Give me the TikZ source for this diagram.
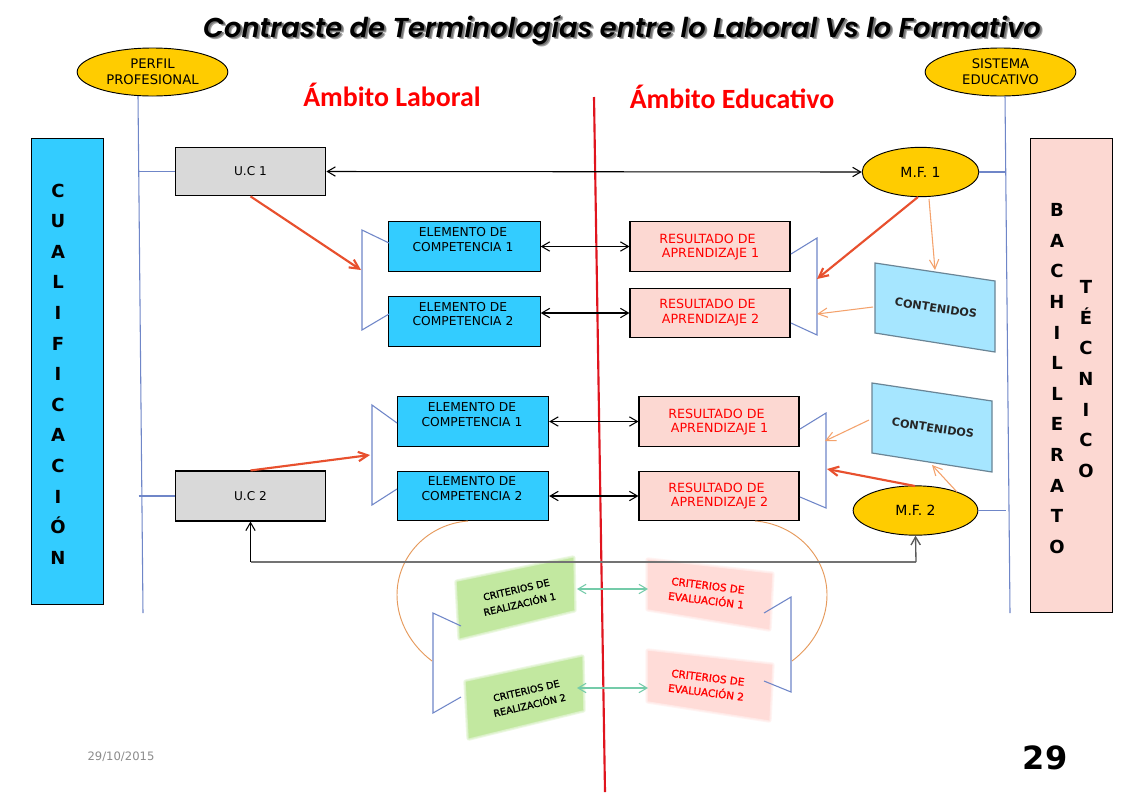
\documentclass[tikz,border=0pt]{standalone}
\usepackage{fontspec}
\setmainfont{DejaVu Sans}
\newfontfamily\carlfont{Carlito}
\newfontfamily\titlefont{Poppins SemiBold}
\newfontfamily\critfont[FakeBold=1.4]{DejaVu Sans}
\usetikzlibrary{arrows.meta,shapes.geometric}
\definecolor{cyanbox}{HTML}{33CCFF}
\definecolor{pinkbox}{HTML}{FCD8D2}
\definecolor{greybox}{HTML}{D9D9D9}
\definecolor{goldell}{HTML}{FFCC00}
\definecolor{bluel}{HTML}{6F86C8}
\definecolor{redarr}{HTML}{E8502E}
\definecolor{orarr}{HTML}{F4A26C}
\definecolor{arccol}{HTML}{E69A5C}
\definecolor{contf}{HTML}{A6E6FF}
\definecolor{contd}{HTML}{6A8596}
\definecolor{grn}{HTML}{C2E8A0}
\definecolor{pnk}{HTML}{FFDCD8}
\definecolor{tealc}{HTML}{74CBA9}
\definecolor{centre}{HTML}{E0141E}
\newcommand{\softquad}[5]{%
  \foreach \w in {4,2.5,1}{\filldraw[#1,opacity=.3,line width=\w pt,line join=round] #2 -- #3 -- #4 -- #5 -- cycle;}%
  \fill[#1] #2 -- #3 -- #4 -- #5 -- cycle;}
\newcommand{\shadowed}[1]{%
  \rlap{\kern2pt\raisebox{-2pt}{\textcolor{black!35}{#1}}}%
  \rlap{\kern1.3pt\raisebox{-1.3pt}{\textcolor{black!55}{#1}}}#1}
\tikzset{
  x=.75pt,y=-.75pt,
  lab/.style={font=\fontsize{9.2}{11.2}\selectfont,align=center,inner sep=0pt},
  labred/.style={lab,font=\fontsize{9.5}{10.8}\selectfont,text=red,align=left},
  rowtext/.style={font=\fontsize{13.5}{22.95}\selectfont\bfseries,align=center,inner sep=0pt},
  boxc/.style={draw=black,line width=.8pt,fill=cyanbox,rectangle,inner sep=0pt},
  boxp/.style={draw=black,line width=.8pt,fill=pinkbox,rectangle,inner sep=0pt},
  boxg/.style={draw=black,line width=.8pt,fill=greybox,rectangle,inner sep=0pt,minimum width=113pt,font=\fontsize{9.1}{10}\selectfont},
  ell/.style={draw=black,line width=.7pt,fill=goldell,ellipse,inner sep=0pt,font=\fontsize{9.9}{12}\selectfont,align=center},
  thinb/.style={draw=bluel,line width=.8pt},
  blk/.style={draw=black,line width=.8pt,{Straight Barb[length=6pt,width=7pt]}-{Straight Barb[length=6pt,width=7pt]}},
  rarr/.style={draw=redarr,line width=1.6pt,-{Straight Barb[length=7pt,width=7pt]}},
  oarr/.style={draw=orarr,line width=.8pt,-{Straight Barb[length=7pt,width=7pt]}},
  tarr/.style={draw=tealc,line width=.8pt,{Straight Barb[length=6pt,width=7pt]}-{Straight Barb[length=6pt,width=7pt]}},
  rr/.style={minimum width=120pt,minimum height=37pt},
  ee/.style={minimum width=113.5pt,minimum height=37pt},
  conttext/.style={font=\fontsize{8.4}{10}\selectfont\bfseries,text=black!85,inner sep=0pt,rotate=-8.5},
  crit/.style={font=\fontsize{7.2}{11.2}\selectfont\critfont,align=center,inner sep=0pt},
  critr/.style={font=\fontsize{7.8}{11.2}\selectfont\critfont,align=center,inner sep=0pt,text=red},
}
\begin{document}
\begin{tikzpicture}
\useasboundingbox (0,0) rectangle (1134,793);
\fill[white] (0,0) rectangle (1134,793);

% title
\node[font=\fontsize{20.5}{24}\selectfont\titlefont\itshape,inner sep=0pt] (title) at (622,31) {\shadowed{Contraste de Terminologías entre lo Laboral Vs lo Formativo}};
\node[font=\fontsize{20.9}{24}\selectfont\carlfont\bfseries,text=red,inner sep=0pt] (amblab) at (392,95) {Ámbito Laboral};
\node[font=\fontsize{20.9}{24}\selectfont\carlfont\bfseries,text=red,inner sep=0pt] (ambedu) at (732,97) {Ámbito Educativo};

% side bars
\node[boxc,minimum width=54pt,minimum height=350pt] (barl) at (67.5,371.5) {};
\node[boxp,minimum width=61pt,minimum height=356pt] (barr) at (1071.5,375.5) {};
\node[rowtext] (cualif) at (58,374) {C\\U\\A\\L\\I\\F\\I\\C\\A\\C\\I\\Ó\\N};
\node[rowtext] (bach) at (1057,378.5) {B\\A\\C\\H\\I\\L\\L\\E\\R\\A\\T\\O};
\node[rowtext] (tecn) at (1086,379) {T\\É\\C\\N\\I\\C\\O};

% top ellipses
\node[ell,minimum width=113pt,minimum height=36pt] (perfil) at (152.5,72) {PERFIL\\PROFESIONAL};
\node[ell,minimum width=113pt,minimum height=36pt] (sistema) at (1000.5,72) {SISTEMA\\EDUCATIVO};

% vertical rails
\coordinate (railLb) at (143,613);
\coordinate (railRb) at (1010,613);
\coordinate (railLt) at (138,96);
\coordinate (railRt) at (1005,96);
\draw[thinb] (railLt) -- (railLb);
\draw[thinb] (railRt) -- (railRb);

% boxes
\node[boxg,minimum height=36.5pt] (uc1) at (250.5,171.5) {U.C 1};
\node[boxg,minimum height=37.5pt] (uc2) at (250.5,496) {U.C 2};
\node[ell,minimum width=87.5pt,minimum height=37pt,font=\fontsize{10.5}{12}\selectfont] (mf1) at (920.5,172) {M.F. 1};
\node[ell,minimum width=93.5pt,minimum height=37pt,font=\fontsize{10.5}{12}\selectfont] (mf2) at (915.5,510.5) {M.F. 2};

\node[boxc,ee] (e1) at (464.5,246.5) {};
\node[boxc,ee] (e2) at (464.5,321.5) {};
\node[boxc,ee] (e3) at (473,421.5) {};
\node[boxc,ee] (e4) at (473,496) {};
\node[boxp,rr] (r1) at (710,246.5) {};
\node[boxp,rr] (r2) at (710,313) {};
\node[boxp,rr] (r3) at (719,421.5) {};
\node[boxp,rr] (r4) at (719,496) {};

\node[lab] (te1) at (463,239.5) {ELEMENTO DE\\COMPETENCIA 1};
\node[lab] (te2) at (463,314) {ELEMENTO DE\\COMPETENCIA 2};
\node[lab] (te3) at (472,414.5) {ELEMENTO DE\\COMPETENCIA 1};
\node[lab] (te4) at (472,488.5) {ELEMENTO DE\\COMPETENCIA 2};
\node[labred,anchor=west] (tr1) at (659,247) {RESULTADO DE\\\hspace*{2pt}APRENDIZAJE 1};
\node[labred,anchor=west] (tr2) at (659,312.5) {RESULTADO DE\\\hspace*{2pt}APRENDIZAJE 2};
\node[labred,anchor=west] (tr3) at (668,422) {RESULTADO DE\\\hspace*{2pt}APRENDIZAJE 1};
\node[labred,anchor=west] (tr4) at (668,496) {RESULTADO DE\\\hspace*{2pt}APRENDIZAJE 2};

% rail ticks
\coordinate (t1) at (138.5,171.5);
\coordinate (t2) at (138.5,496);
\coordinate (t3) at (1006,172);
\coordinate (t4) at (1006,510.5);
\draw[thinb] (t1) -- (uc1.west);
\draw[thinb] (t2) -- (uc2.west);
\draw[thinb] (mf1.east) -- (t3);
\draw[thinb] (mf2.east) -- (t4);

% contenidos
\coordinate (c1a) at (875,263); \coordinate (c1b) at (995,281); \coordinate (c1c) at (995,352); \coordinate (c1d) at (875,333);
\coordinate (c2a) at (872,383); \coordinate (c2b) at (992,401); \coordinate (c2c) at (992,472); \coordinate (c2d) at (872,453);
\filldraw[fill=contf,draw=contd,line width=.9pt] (c1a) -- (c1b) -- (c1c) -- (c1d) -- cycle;
\filldraw[fill=contf,draw=contd,line width=.9pt] (c2a) -- (c2b) -- (c2c) -- (c2d) -- cycle;
\node[conttext] (tc1) at (936,308) {CONTENIDOS};
\node[conttext] (tc2) at (933,428) {CONTENIDOS};

% soft boxes
\softquad{grn}{(457,582)}{(573,558)}{(574,610)}{(460,638)}
\softquad{grn}{(466,682)}{(582,657)}{(583,710)}{(469,738)}
\softquad{pnk}{(648,560)}{(772,574)}{(769,629)}{(648,609)}
\softquad{pnk}{(648,651)}{(772,665)}{(769,720)}{(648,701)}
\node[crit,rotate=13] (cr1) at (518,597) {CRITERIOS DE\\REALIZACIÓN 1};
\node[crit,rotate=13] (cr2) at (528,698) {CRITERIOS DE\\REALIZACIÓN 2};
\node[critr,rotate=-7] (ce1) at (707,593) {CRITERIOS DE\\EVALUACIÓN 1};
\node[critr,rotate=-7] (ce2) at (707,685) {CRITERIOS DE\\EVALUACIÓN 2};

% brackets
\coordinate (b1a) at (362,230); \coordinate (b1b) at (362,330);
\coordinate (b2a) at (817,238); \coordinate (b2b) at (817,335); \coordinate (b2s) at (791,254); \coordinate (b2e) at (791,323);
\coordinate (b3a) at (372,405); \coordinate (b3b) at (372,505);
\coordinate (b4a) at (826,413); \coordinate (b4b) at (826,508); \coordinate (b4s) at (800,429); \coordinate (b4e) at (800,497);
\coordinate (b5s) at (461,626); \coordinate (b5a) at (433,613); \coordinate (b5b) at (433,713); \coordinate (b5e) at (461,697);
\coordinate (b6s) at (764,613); \coordinate (b6a) at (791,597); \coordinate (b6b) at (791,692); \coordinate (b6e) at (764,681);
\draw[thinb] (389,243) -- (b1a) -- (b1b) -- (389,314);
\draw[thinb] (b2s) -- (b2a) -- (b2b) -- (b2e);
\draw[thinb] (397,423) -- (b3a) -- (b3b) -- (397,489);
\draw[thinb] (b4s) -- (b4a) -- (b4b) -- (b4e);
\draw[thinb] (b5s) -- (b5a) -- (b5b) -- (b5e);
\draw[thinb] (b6s) -- (b6a) -- (b6b) -- (b6e);

% arcs
\coordinate (a1s) at (468,521); \coordinate (a1e) at (432,661);
\coordinate (a2s) at (755,521); \coordinate (a2e) at (792,661);
\draw[draw=arccol,line width=.7pt] (a1s) .. controls (428,524) and (397,556) .. (397,595) .. controls (397,622) and (412,646) .. (a1e);
\draw[draw=arccol,line width=.7pt] (a2s) .. controls (795,524) and (827,556) .. (827,595) .. controls (827,622) and (812,646) .. (a2e);

% centre line
\coordinate (ctop) at (594,97); \coordinate (cbot) at (605,792);
\draw[draw=centre,line width=1.6pt] (ctop) -- (cbot);

% connectors
\draw[blk] (uc1.east) -- (mf1.west);
\draw[blk] (e1.east) -- (r1.west);
\draw[blk] (e2.east |- r2.west) -- (r2.west);
\draw[blk] (e3.east) -- (r3.west);
\draw[blk] (e4.east) -- (r4.west);
\coordinate (bot) at (250.5,562); \coordinate (bot2) at (916,562);
\draw[draw=black!55,line width=1.5pt] (bot) -- (bot2);
\draw[draw=black,line width=.8pt,-{Straight Barb[length=6pt,width=7pt]}] (bot) -- (uc2.south);
\draw[draw=black!65,line width=1pt,-{Straight Barb[length=6pt,width=7pt]}] (bot2) -- (mf2.south);

\draw[rarr] (uc1.south) -- (361,270);
\draw[rarr] (uc2.north) -- (370,455);
\draw[rarr] (918,197) -- (817,279);
\draw[rarr] (915,486) -- (827,469);
\draw[oarr] (929,199) -- (935,270);
\draw[oarr] (873,307) -- (817,314);
\draw[oarr] (869,420) -- (825,441);
\draw[oarr] (957,492) -- (932,465);
\draw[tarr] (577,589) -- (648,589);
\draw[tarr] (577,688) -- (648,688);

% footer
\node[font=\fontsize{8.7}{10}\selectfont,text=black!45,inner sep=0pt] (date) at (121,757) {29/10/2015};
\node[font=\fontsize{24}{28}\selectfont\bfseries,inner sep=0pt] (num) at (1045,758) {29};
\end{tikzpicture}
\end{document}
